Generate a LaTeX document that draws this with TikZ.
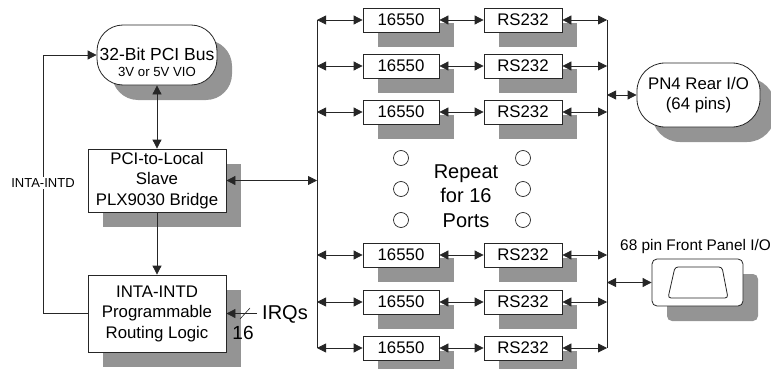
\documentclass[tikz,border=0pt]{standalone}
\usepackage{fontspec}
\setmainfont{Liberation Sans}
\usetikzlibrary{arrows.meta,shadows}
\newcommand\fmain{\fontsize{16.8}{20.5}\selectfont}
\newcommand\fsmall{\fontsize{13.2}{16}\selectfont}
\newcommand\fbig{\fontsize{20}{24.5}\selectfont}
\begin{document}
\begin{tikzpicture}[x=1pt,y=-1pt,
  shadowed/.style={drop shadow={shadow xshift=15pt,shadow yshift=-15pt,opacity=1,fill=black!42}},
  box/.style={draw=black!85,line width=0.8pt,fill=white,inner sep=0pt,align=center,font=\fmain,shadowed},
  pill/.style={box,rounded corners=26pt},
  unit/.style={box,minimum width=76pt,minimum height=24pt},
  rsbox/.style={box,minimum width=78pt,minimum height=24pt},
  dot/.style={circle,draw=black!85,line width=0.7pt,minimum size=15pt,inner sep=0pt},
  ln/.style={line width=0.8pt,draw=black!85},
  arr/.style={ln,-{Triangle[length=9pt,width=9pt]}},
  darr/.style={ln,{Triangle[length=9pt,width=9pt]}-{Triangle[length=9pt,width=9pt]}},
  txt/.style={inner sep=0pt,align=center}]
\useasboundingbox (0,0) rectangle (771,369);

% PCI bus
\node[pill,minimum width=120pt,minimum height=60pt] (pci) at (157,55) {};
\node[txt,font=\fontsize{17.5}{20}\selectfont] (pcit1) at (157,54) {32-Bit PCI Bus};
\node[txt,font=\fsmall] (pcit2) at (157,72) {3V or 5V VIO};

% Bridge
\node[box,minimum width=138pt,minimum height=63pt] (bridge) at (157,180.5) {PCI-to-Local\\Slave\\PLX9030 Bridge};

% INTA logic
\node[box,minimum width=138pt,minimum height=77pt] (inta) at (157,313.5) {INTA-INTD\\Programmable\\Routing Logic};

% rows
\foreach \i/\y in {1/20,2/66,3/112,4/255,5/302,6/348}{
  \node[unit] (u\i) at (401,\y) {16550};
  \node[rsbox] (r\i) at (523,\y) {RS232};
  \coordinate (lb\i) at (317,\y);
  \coordinate (rb\i) at (607,\y);
}
\foreach \i in {1,...,6}{
  \draw[darr] (lb\i) -- (u\i.west);
  \draw[darr] (u\i.east) -- (r\i.west);
  \draw[darr] (r\i.east) -- (rb\i);
}
\draw[ln] (lb1) -- (lb6);
\draw[ln] (rb1) -- (rb6);

% dots and repeat text
\foreach \i/\y in {1/158,2/189,3/220}{
  \node[dot] (dl\i) at (401,\y) {};
  \node[dot] (dr\i) at (523,\y) {};
}
\node[txt,font=\fbig] (rep) at (466,196) {Repeat\\for 16\\Ports};

% PN4
\node[pill,minimum width=123pt,minimum height=64pt,rounded corners=28pt] (pn4) at (698.5,95) {PN4 Rear I/O\\(64 pins)};
\coordinate (rbp) at (607,95);
\draw[darr] (rbp) -- (pn4.west);

% Front panel
\node[box,rounded corners=5pt,minimum width=91pt,minimum height=47pt] (fp) at (697.5,282.5) {};
\draw[ln,rounded corners=3pt] ([shift={(-29.5pt,-15.5pt)}]fp.center) -- ([shift={(30.5pt,-15.5pt)}]fp.center)
  -- ([shift={(24.5pt,15.5pt)}]fp.center) -- ([shift={(-22.5pt,15.5pt)}]fp.center) -- cycle;
\node[txt,anchor=west,font=\fontsize{15.4}{18}\selectfont] (fpl) at (620,247) {68 pin Front Panel I/O};
\coordinate (rbf) at (607,282.5);
\draw[darr] (rbf) -- (fp.west);

% bridge to bus
\coordinate (lbb) at (317,180.5);
\draw[darr] (bridge.east) -- (lbb);

% PCI <-> bridge, bridge -> inta
\draw[darr] (pci.south) -- (bridge.north);
\draw[arr] (bridge.south) -- (inta.north);

% feedback
\coordinate (fb) at (43,313.5);
\draw[arr] (inta.west) -- (fb) |- (pci.west);
\node[txt,fill=white,inner ysep=2pt,font=\fontsize{13}{15}\selectfont] (fbl) at (43,183) {INTA-INTD};

% IRQs
\coordinate (irq) at (257,313.5);
\draw[arr] (irq) -- (inta.east);
\coordinate (sl1) at (240,319);
\coordinate (sl2) at (250,308);
\draw[ln,line width=0.6pt] (sl1) -- (sl2);
\node[txt,anchor=west,font=\fbig] (irqt) at (262,314) {IRQs};
\node[txt,font=\fontsize{19}{22}\selectfont] (n16) at (243,333) {16};
\end{tikzpicture}
\end{document}
